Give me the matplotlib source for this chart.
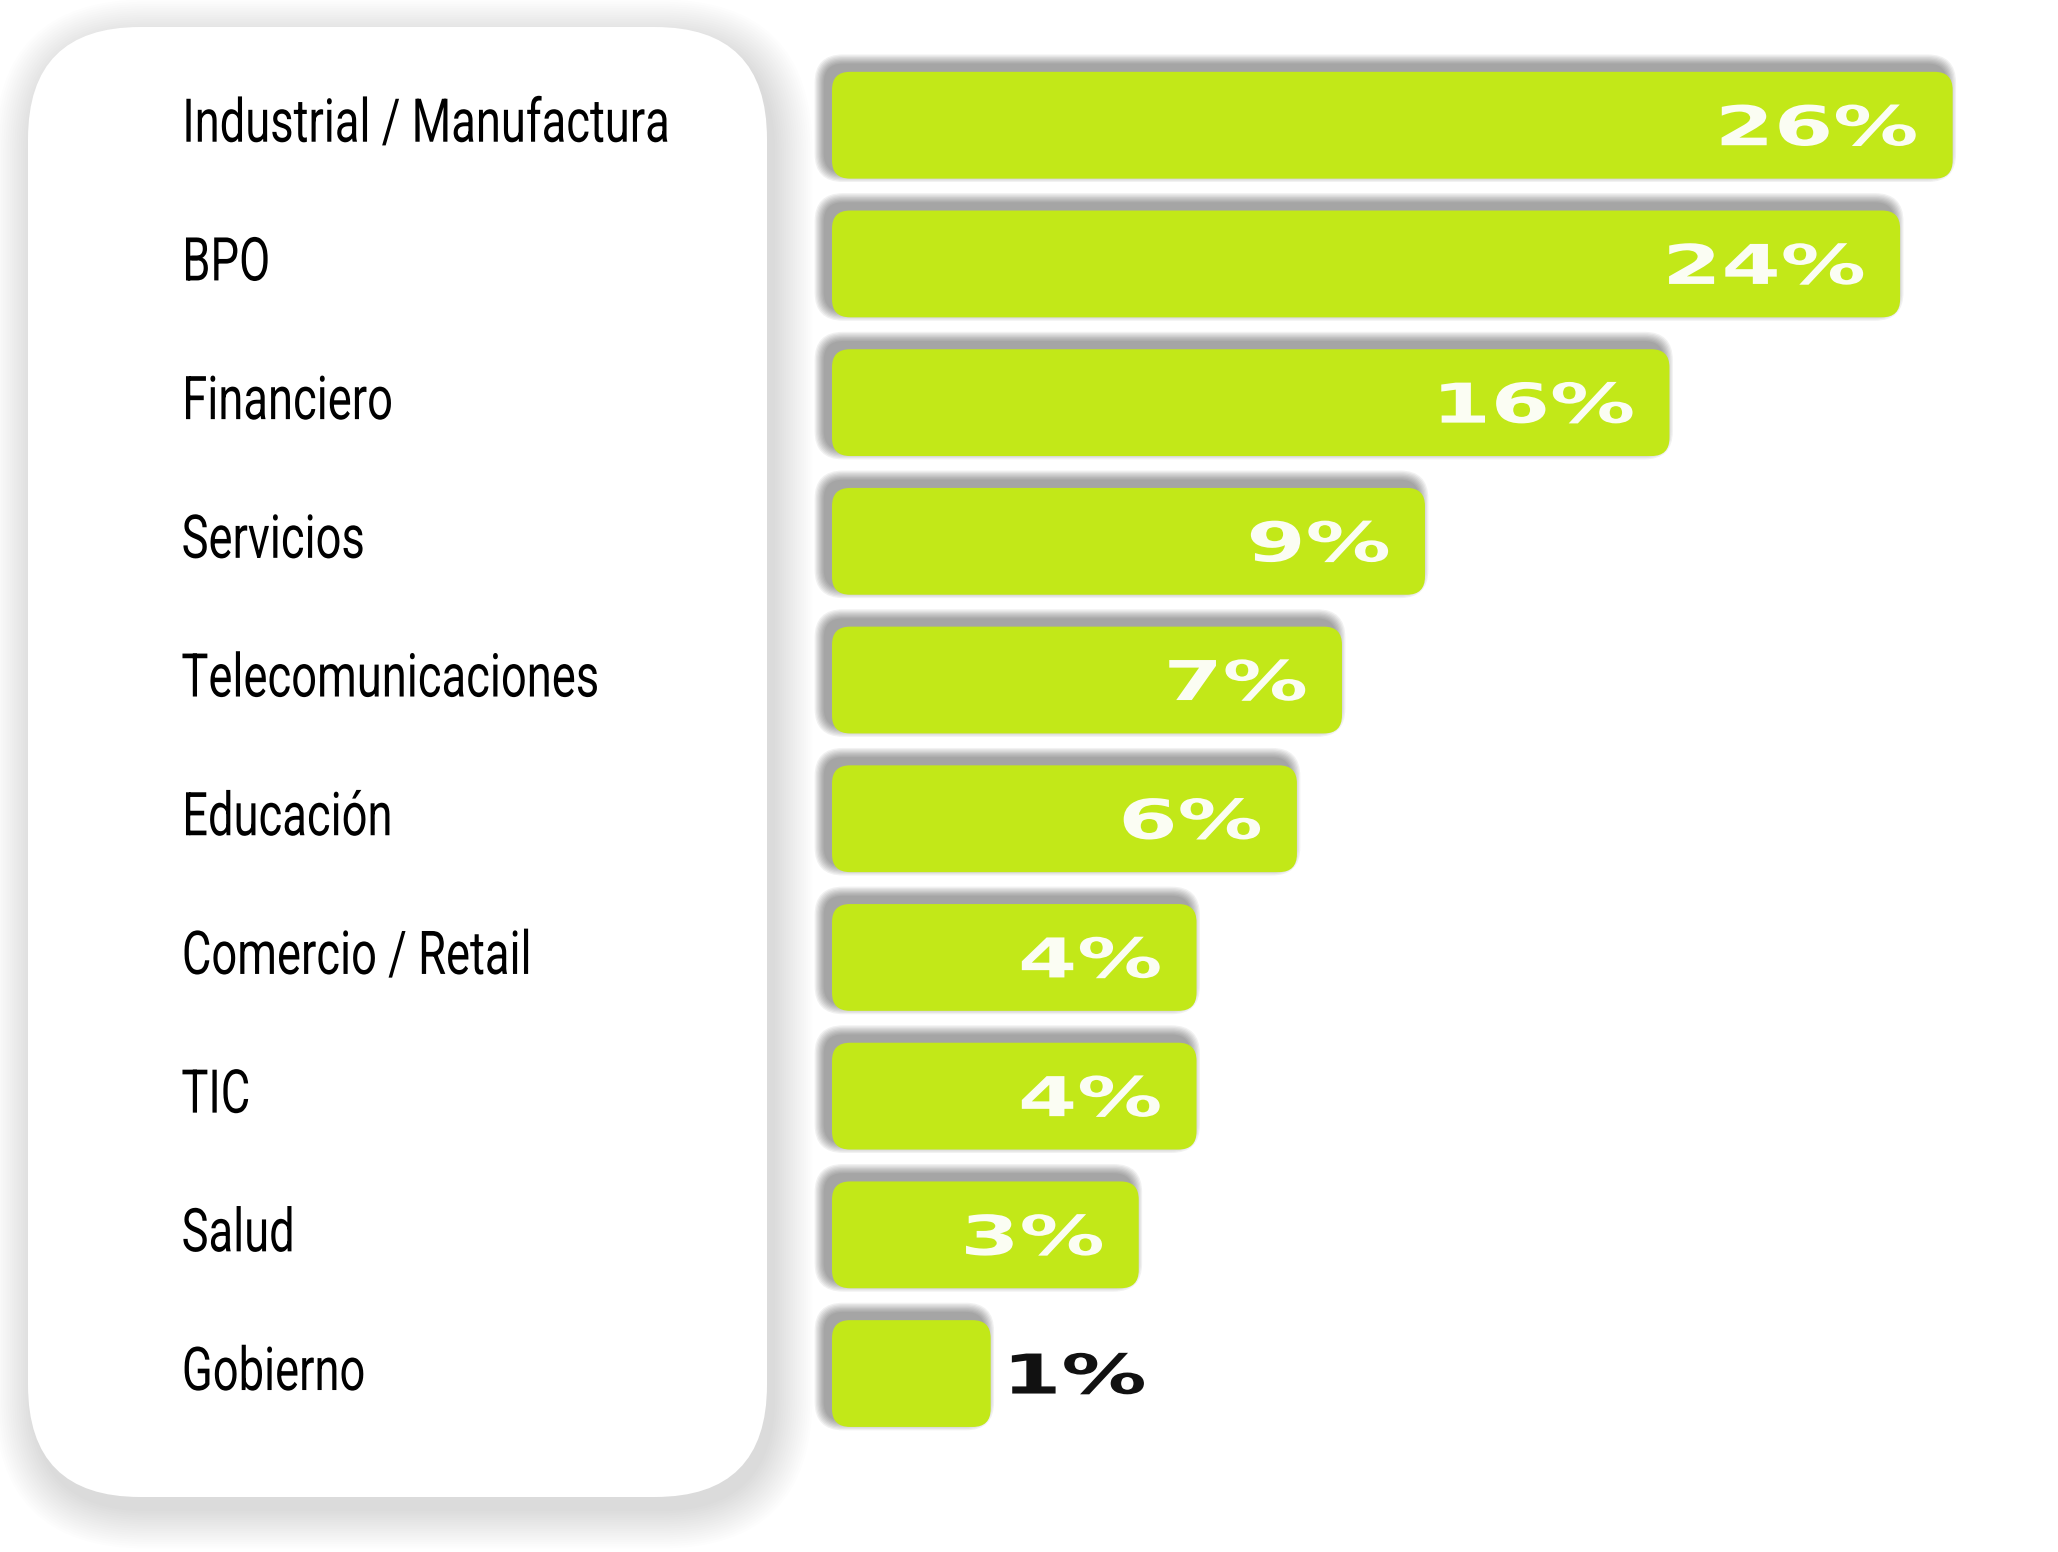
import numpy as np
import matplotlib
matplotlib.use('Agg')
import matplotlib.pyplot as plt
from matplotlib.patches import FancyBboxPatch
from matplotlib.patheffects import AbstractPathEffect
from matplotlib.transforms import (Affine2D, IdentityTransform,
                                   blended_transform_factory)

# sector share of respondents, read from the infographic
sectors = ['Industrial / Manufactura', 'BPO', 'Financiero', 'Servicios',
           'Telecomunicaciones', 'Educación', 'Comercio / Retail', 'TIC',
           'Salud', 'Gobierno']
shares = [26, 24, 16, 9, 7, 6, 4, 4, 3, 1]  # %

W, H = 2058, 1552
LIME = '#c2e818'
LABEL_FONT = ['Roboto', 'DejaVu Sans']
VALUE_FONT = ['DejaVu Sans']
POW = 0.6  # the bars are not linear in the value, a power scale fits them


class Stretch(AbstractPathEffect):
    # squeeze / widen the glyphs horizontally (condensed / extended look)
    def __init__(self, sx, anchor='left'):
        super().__init__()
        self.sx = sx
        self.anchor = anchor

    def draw_path(self, renderer, gc, tpath, affine, rgbFace=None):
        ext = tpath.get_extents(affine)
        x0 = ext.x0 if self.anchor == 'left' else ext.x1
        aff = affine + Affine2D().translate(-x0, 0).scale(self.sx, 1).translate(x0, 0)
        renderer.draw_path(gc, tpath, aff, rgbFace)


fig = plt.figure(figsize=(W / 100, H / 100), dpi=100)
fig.patch.set_facecolor('white')


def soft_layers(x0, y0, w, h, r, color, layers, step, alpha, dx=0, dy=0,
                target=None, zorder=0):
    # fake blurred shadow: stacked, slowly growing translucent boxes (pixels)
    for k in range(layers, 0, -1):
        p = k * step
        patch = FancyBboxPatch((x0 - p + dx, y0 - p + dy), w + 2 * p, h + 2 * p,
                               boxstyle='round,pad=0,rounding_size=%g' % (r + p),
                               transform=IdentityTransform(), fc=color,
                               ec='none', alpha=alpha, zorder=zorder,
                               clip_on=False)
        if target is None:
            fig.add_artist(patch)
        else:
            target.add_patch(patch)


# left white card with its soft shadow
px0, py0, pw, ph, pr = 28, 55, 739, 1470, 112
soft_layers(px0, py0, pw, ph, pr, 'black', 18, 2.2, 0.008, dx=6, dy=-12,
            zorder=-3)
fig.add_artist(FancyBboxPatch((px0, py0), pw, ph,
                              boxstyle='round,pad=0,rounding_size=%g' % pr,
                              transform=IdentityTransform(), fc='white',
                              ec='none', zorder=-2))

# bars
ax = fig.add_axes([832 / W, 0.0703, 1 - 832 / W, 0.8937])
ax.set_facecolor('none')
ax.set_xscale('function',
              functions=(lambda v: np.power(np.maximum(v, 0), POW),
                         lambda v: np.power(np.maximum(v, 0), 1 / POW)))
n = len(sectors)
ypos = np.arange(n)
ax.set_xlim(0, 30.2)
ax.set_ylim(n - 0.5, -0.5)
ax.axis('off')

bars = ax.barh(ypos, shares, height=0.77, color=LIME)
for b in bars:
    bb = b.get_window_extent()
    b.set_visible(False)
    soft_layers(bb.x0, bb.y0, bb.width, bb.height, 18, '#3a3a3a', 8, 1.3,
                0.07, dx=-7, dy=7, target=ax, zorder=1)
    ax.add_patch(FancyBboxPatch((bb.x0, bb.y0), bb.width, bb.height,
                                boxstyle='round,pad=0,rounding_size=18',
                                transform=IdentityTransform(), fc=LIME,
                                ec='none', zorder=2, clip_on=False))

for yi, v in zip(ypos, shares):
    if v >= 2:
        ax.annotate('%d%%' % v, xy=(v, yi), xytext=(-35, -20),
                    textcoords='offset pixels', ha='right', va='baseline',
                    color='#fbfdf3', fontsize=39.5, fontweight='bold',
                    family=VALUE_FONT, zorder=4,
                    path_effects=[Stretch(1.55, 'right')])
    else:
        ax.annotate('%d%%' % v, xy=(v, yi), xytext=(15, -20),
                    textcoords='offset pixels', ha='left', va='baseline',
                    color='#111111', fontsize=39.5, fontweight='bold',
                    family=VALUE_FONT, zorder=4,
                    path_effects=[Stretch(1.55, 'left')])

# sector names inside the card, aligned with the bars
trans = blended_transform_factory(fig.transFigure, ax.transData)
for yi, name in zip(ypos, sectors):
    ax.text(181 / W, yi, name, transform=trans, ha='left', va='center',
            fontsize=43.5, color='black', family=LABEL_FONT, zorder=5,
            clip_on=False, path_effects=[Stretch(0.75, 'left')])

fig.savefig('out.png', dpi=100, facecolor='white')
